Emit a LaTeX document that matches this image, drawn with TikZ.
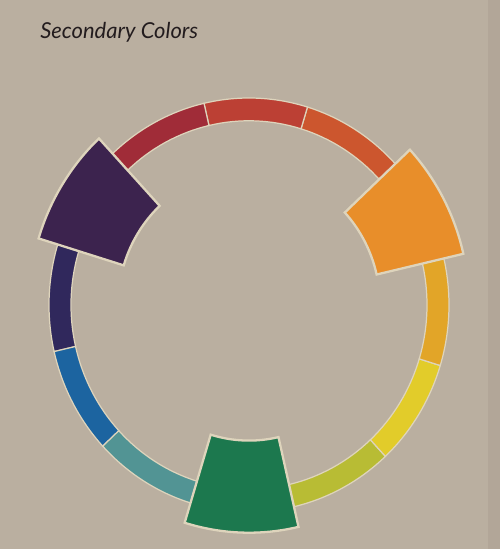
\documentclass[tikz,border=0pt]{standalone}
\usepackage{fontspec}
\newfontfamily\titlefont{Lato}
\definecolor{paper}{RGB}{186,175,160}
\definecolor{gutter}{RGB}{178,166,152}
\definecolor{rim}{RGB}{222,212,188}
\definecolor{ink}{RGB}{35,28,30}
\definecolor{cgreen}{RGB}{28,120,78}
\definecolor{cygreen}{RGB}{184,188,52}
\definecolor{cyellow}{RGB}{226,204,42}
\definecolor{cyorange}{RGB}{226,165,40}
\definecolor{corange}{RGB}{232,142,42}
\definecolor{crorange}{RGB}{204,86,46}
\definecolor{cred}{RGB}{188,64,52}
\definecolor{crviolet}{RGB}{160,44,56}
\definecolor{cviolet}{RGB}{60,35,78}
\definecolor{cindigo}{RGB}{48,40,92}
\definecolor{cblue}{RGB}{28,100,160}
\definecolor{cteal}{RGB}{82,148,148}

\begin{document}
\begin{tikzpicture}[x=0.02cm,y=-0.02cm,
    band/.style={draw=rim,line width=0.7pt},
    block/.style={draw=rim,line width=1.3pt}]
    \fill[paper] (0,0) rectangle (500,549);
    \fill[gutter] (488,0) rectangle (500,549);
    \node[anchor=base west,inner sep=0pt,text=ink,font=\titlefont\itshape\fontsize{12.5}{15}\selectfont] (title) at (40,38) {Secondary Colors};
    \begin{scope}[shift={(249,305)},yscale=-1.035]
        \foreach \a/\c in {300/cygreen,330/cyellow,0/cyorange,60/crorange,90/cred,120/crviolet,180/cindigo,210/cblue,240/cteal}
            \filldraw[fill=\c,band] (\a-17:178) arc[start angle=\a-17,end angle=\a+13,radius=178]
                -- (\a+13:200) arc[start angle=\a+13,end angle=\a-17,radius=200] -- cycle;
        \foreach \a/\c in {270/cgreen,30/corange,150/cviolet}
            \filldraw[fill=\c,block] (\a-17:131) arc[start angle=\a-17,end angle=\a+13,radius=131]
                -- (\a+13:220) arc[start angle=\a+13,end angle=\a-17,radius=220] -- cycle;
    \end{scope}
\end{tikzpicture}
\end{document}
